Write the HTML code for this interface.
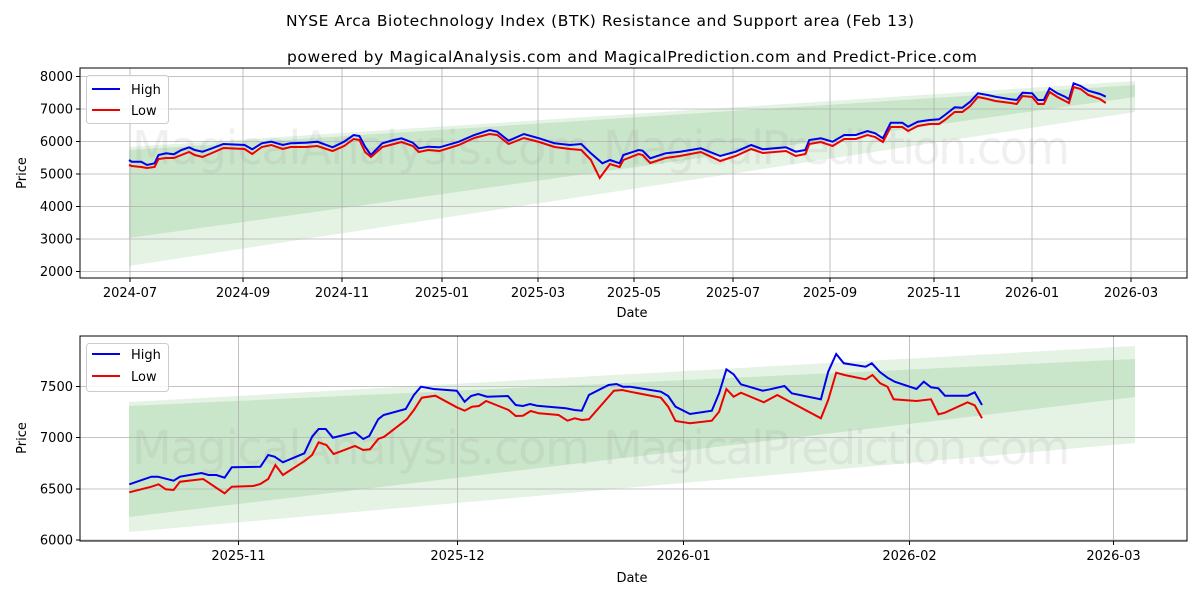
<!DOCTYPE html>
<html><head><meta charset="utf-8"><style>
body{margin:0;background:#fff}
svg{display:block;font-family:"DejaVu Sans","Liberation Sans",sans-serif}
</style></head><body>
<svg width="1200" height="600" viewBox="0 0 1200 600" xmlns="http://www.w3.org/2000/svg">
<rect width="1200" height="600" fill="#fff"/>
<text x="600" y="26" font-size="15.5" text-anchor="middle" textLength="628" fill="#000">NYSE Arca Biotechnology Index (BTK) Resistance and Support area (Feb 13)</text>
<text x="632" y="62" font-size="15.5" text-anchor="middle" textLength="690" fill="#000">powered by MagicalAnalysis.com and MagicalPrediction.com and Predict-Price.com</text>

<!-- TOP CHART -->
<g>
<polygon points="129,147 1135,81 1135,112 129,266" fill="#2ca02c" fill-opacity="0.12"/>
<polygon points="129,150 1135,85 1135,97 129,238" fill="#2ca02c" fill-opacity="0.15"/>
<g stroke="#b0b0b0" stroke-width="0.8">
<line x1="130" y1="68" x2="130" y2="278"/><line x1="243" y1="68" x2="243" y2="278"/><line x1="342" y1="68" x2="342" y2="278"/><line x1="442" y1="68" x2="442" y2="278"/><line x1="538" y1="68" x2="538" y2="278"/><line x1="634" y1="68" x2="634" y2="278"/><line x1="733" y1="68" x2="733" y2="278"/><line x1="830" y1="68" x2="830" y2="278"/><line x1="934" y1="68" x2="934" y2="278"/><line x1="1032" y1="68" x2="1032" y2="278"/><line x1="1131" y1="68" x2="1131" y2="278"/>
<line x1="80" y1="76.5" x2="1187" y2="76.5"/><line x1="80" y1="109" x2="1187" y2="109"/><line x1="80" y1="141.5" x2="1187" y2="141.5"/><line x1="80" y1="174" x2="1187" y2="174"/><line x1="80" y1="206.5" x2="1187" y2="206.5"/><line x1="80" y1="239" x2="1187" y2="239"/><line x1="80" y1="271.5" x2="1187" y2="271.5"/>
</g>
<text x="132" y="164" font-size="46" textLength="458" fill="#808080" fill-opacity="0.12">MagicalAnalysis.com</text>
<text x="603" y="164" font-size="46" textLength="467" fill="#808080" fill-opacity="0.12">MagicalPrediction.com</text>
<polyline fill="none" stroke="#0000ee" stroke-width="2" points="129,160 131.7,161.7 141.2,161.7 147,165 154.6,163.3 158.5,155 166.1,153.3 173.8,154.3 181.4,150 189.1,147.3 194.8,150 202.5,151.7 212,148.3 223.5,144 244.6,145 252.2,149.3 261.8,143.3 271.4,141.7 282.8,145 290.5,143.3 305.8,142.7 317.3,141.7 332.6,147.3 344.1,141.7 353.6,135 359.4,136 365.1,146.7 370.9,155 382.3,143.3 393.8,140 401.5,138.3 412.9,142.7 418.7,148.3 428.3,146.7 439.7,147.3 458.9,141.7 474.2,135 489.5,130 497.2,131.7 508.6,140.7 523.9,134 539.2,138.3 554.6,143.3 569.9,145 581.3,144 590.9,153.3 602.4,163.3 610,160 619.6,163.3 623.4,155 638.7,150 642.6,150.7 650.2,158.3 665.5,153.3 680,151.7 700.8,148.3 720.2,156 735.7,151.7 751.2,145 762.8,149.3 786,147.3 795.7,151.7 805.4,150 809.3,140 820.9,138.3 832.6,141.7 844.2,135 855.8,135 867.4,131 875.2,133.3 882.9,138.3 890.7,122.7 902.3,122.7 908.1,126.7 917.8,121.7 929.5,120 939.1,119.3 944.9,115 954.7,107.3 962.4,107.7 970.2,101.7 977.9,93.3 987.6,95 995.3,96.7 1010.9,99.3 1016.7,100 1022.5,92.7 1032.2,93.3 1038,100 1043.8,100 1049.6,88.3 1057.4,93.3 1065.1,96.7 1069,99.3 1073.6,83.3 1080.6,86 1088.4,90.7 1100,94 1105.8,96.7"/>
<polyline fill="none" stroke="#ee0000" stroke-width="2" points="129,165 131.7,166 141.2,167 147,168 154.6,167 158.5,159 166.1,158 173.8,158 181.4,155 189.1,152 194.8,155 202.5,157 212,153 223.5,148 244.6,149 252.2,154 261.8,147 271.4,145 282.8,149 290.5,147 305.8,147 317.3,146 332.6,151 344.1,146 353.6,139 359.4,140 365.1,152 371,157 382.3,147 393.8,144 401.5,142 412.9,146 418.7,152 428.3,150 439.7,151 458.9,145 474.2,138 489.5,134 497.2,135 508.6,144 523.9,138 539.2,142 554.6,147 569.9,149 581.3,150 590.9,160 599.7,178 610,164 619.6,167 623.4,160 638.7,154 642.6,155 650.2,163 665.5,158 680,156 700.8,152 720.2,161 735.7,156 751.2,149 762.8,153 786,151 795.7,156 805.4,154 809.3,144 820.9,142 832.6,146 844.2,139 855.8,139 867.4,135 875.2,137 882.9,142 890.7,127 902.3,127 908.1,131 917.8,126 929.5,124 939.1,124 944.9,120 954.7,112 962.4,112 970.2,106 977.9,97 987.6,99 995.3,101 1010.9,103 1016.7,104 1022.5,96 1032.2,97 1038,104 1043.8,104 1049.6,92 1057.4,97 1065.1,101 1069,103 1073.6,87 1080.6,89 1088.4,95 1100,99 1105.8,103"/>
<rect x="80" y="68" width="1107" height="210" fill="none" stroke="#000" stroke-width="1"/>
<g stroke="#000" stroke-width="1">
<line x1="130" y1="278" x2="130" y2="282"/><line x1="243" y1="278" x2="243" y2="282"/><line x1="342" y1="278" x2="342" y2="282"/><line x1="442" y1="278" x2="442" y2="282"/><line x1="538" y1="278" x2="538" y2="282"/><line x1="634" y1="278" x2="634" y2="282"/><line x1="733" y1="278" x2="733" y2="282"/><line x1="830" y1="278" x2="830" y2="282"/><line x1="934" y1="278" x2="934" y2="282"/><line x1="1032" y1="278" x2="1032" y2="282"/><line x1="1131" y1="278" x2="1131" y2="282"/>
<line x1="76" y1="76.5" x2="80" y2="76.5"/><line x1="76" y1="109" x2="80" y2="109"/><line x1="76" y1="141.5" x2="80" y2="141.5"/><line x1="76" y1="174" x2="80" y2="174"/><line x1="76" y1="206.5" x2="80" y2="206.5"/><line x1="76" y1="239" x2="80" y2="239"/><line x1="76" y1="271.5" x2="80" y2="271.5"/>
</g>
<g font-size="13" text-anchor="middle">
<text x="130" y="297">2024-07</text><text x="243" y="297">2024-09</text><text x="342" y="297">2024-11</text><text x="442" y="297">2025-01</text><text x="538" y="297">2025-03</text><text x="634" y="297">2025-05</text><text x="733" y="297">2025-07</text><text x="830" y="297">2025-09</text><text x="934" y="297">2025-11</text><text x="1032" y="297">2026-01</text><text x="1131" y="297">2026-03</text>
</g>
<g font-size="13" text-anchor="end">
<text x="73" y="81">8000</text><text x="73" y="113.5">7000</text><text x="73" y="146">6000</text><text x="73" y="178.5">5000</text><text x="73" y="211">4000</text><text x="73" y="243.5">3000</text><text x="73" y="276">2000</text>
</g>
<text x="632" y="317" font-size="13" text-anchor="middle">Date</text>
<text transform="translate(26,173) rotate(-90)" font-size="13" text-anchor="middle">Price</text>
<rect x="86.5" y="75.5" width="82" height="48" rx="3" fill="#fff" fill-opacity="0.85" stroke="#ccc"/>
<line x1="92" y1="89" x2="120" y2="89" stroke="#0000ee" stroke-width="2"/>
<line x1="92" y1="110" x2="120" y2="110" stroke="#ee0000" stroke-width="2"/>
<text x="131" y="94" font-size="13">High</text><text x="131" y="115" font-size="13">Low</text>
</g>

<!-- BOTTOM CHART -->
<g>
<polygon points="129,402 1135,346 1135,443 129,532" fill="#2ca02c" fill-opacity="0.12"/>
<polygon points="129,406 1135,359 1135,397 129,517" fill="#2ca02c" fill-opacity="0.15"/>
<g stroke="#b0b0b0" stroke-width="0.8">
<line x1="238.5" y1="336" x2="238.5" y2="541"/><line x1="457.5" y1="336" x2="457.5" y2="541"/><line x1="683.5" y1="336" x2="683.5" y2="541"/><line x1="909.5" y1="336" x2="909.5" y2="541"/><line x1="1113.5" y1="336" x2="1113.5" y2="541"/>
<line x1="80" y1="386.5" x2="1187" y2="386.5"/><line x1="80" y1="437.5" x2="1187" y2="437.5"/><line x1="80" y1="489" x2="1187" y2="489"/><line x1="80" y1="540" x2="1187" y2="540"/>
</g>
<text x="132" y="464" font-size="46" textLength="458" fill="#808080" fill-opacity="0.12">MagicalAnalysis.com</text>
<text x="603" y="464" font-size="46" textLength="467" fill="#808080" fill-opacity="0.12">MagicalPrediction.com</text>
<polyline fill="none" stroke="#0000ee" stroke-width="2" points="129.3,484.3 151.4,476.7 157.9,476.7 173.6,480.7 180,476.7 201.4,473 208.6,475 216.4,475 224.6,477.7 231.8,467.3 260.4,466.7 268.2,455 274.6,456.7 282.9,462.3 304.3,453.3 312.1,436.7 318.6,429 325.7,429 332.9,437.7 355,432.3 363.2,439 369.3,436 378.2,419.3 383.6,415 405.7,409 413.9,395 421,386.7 433.6,389 456.8,390.7 464.6,401.7 471,396 478.2,394 487.1,396.7 507.9,396 515.7,405 522.9,406 530,404 537.1,405.7 565.7,408.3 574.6,410 581.8,410.7 588.9,395 608.6,385 616.4,384 622.9,386.7 630,386.7 660.9,391.7 668.2,396 675.5,406.7 690,414 711.8,410.7 719.1,393.3 726.4,369.3 733.6,374.3 740.9,384.3 762.7,390.7 770,389.3 784.5,386 791.8,393.3 820.9,399.3 828.2,371.7 836.2,354 843.8,363.3 865.6,366.7 871.8,363.3 880.2,372.3 887.5,377.7 894.7,381.7 916.5,389 923.8,381.7 931,387.3 938.4,388.3 944.9,395.7 967.5,395.7 974.7,392.3 982,405"/>
<polyline fill="none" stroke="#ee0000" stroke-width="2" points="129.3,492.3 151.4,486.7 158.6,484.3 165.7,489.3 173.6,490 180,481.7 203.2,479 224.6,493.3 231.8,486.7 253.2,486 260.4,484 268.2,479 275.4,465 282.9,475 305,460.7 312.1,455 318.6,442.3 326.4,445 333.6,454 355,446 363.2,450 370,449.3 378.2,439 384.3,436.7 406.8,419.3 413.9,410 421.8,397.7 435.4,395.7 456.8,407.3 464.6,410.7 472.1,406.7 478.9,406 486.1,401 508.6,410 515.7,416 522.9,415.7 530.7,411 538.9,413.3 558.6,415 567.5,420.7 574.6,418.3 581.8,420 588.9,419.3 613.9,390.7 622.1,390 630,391.7 660.9,397.7 668.2,406.7 675.5,421 690,423.3 711.8,420.7 719.1,411.7 726.4,389 733.6,396.7 740.9,392.7 763.8,402.3 777.3,395 820.9,418.3 828.2,400 836.2,372.7 844.5,375 865.6,379.3 872.5,375 880.2,383.3 887.5,386.7 893.6,399.3 916.5,401 931,399.3 938.4,414.3 944.9,412.7 967.5,402.3 974.7,405.3 982,418.3"/>
<rect x="80" y="336" width="1107" height="205" fill="none" stroke="#000" stroke-width="1"/>
<g stroke="#000" stroke-width="1">
<line x1="238.5" y1="541" x2="238.5" y2="545"/><line x1="457.5" y1="541" x2="457.5" y2="545"/><line x1="683.5" y1="541" x2="683.5" y2="545"/><line x1="909.5" y1="541" x2="909.5" y2="545"/><line x1="1113.5" y1="541" x2="1113.5" y2="545"/>
<line x1="76" y1="386.5" x2="80" y2="386.5"/><line x1="76" y1="437.5" x2="80" y2="437.5"/><line x1="76" y1="489" x2="80" y2="489"/><line x1="76" y1="540" x2="80" y2="540"/>
</g>
<g font-size="13" text-anchor="middle">
<text x="238.5" y="560">2025-11</text><text x="457.5" y="560">2025-12</text><text x="683.5" y="560">2026-01</text><text x="909.5" y="560">2026-02</text><text x="1113.5" y="560">2026-03</text>
</g>
<g font-size="13" text-anchor="end">
<text x="73" y="391">7500</text><text x="73" y="442">7000</text><text x="73" y="493.5">6500</text><text x="73" y="544.5">6000</text>
</g>
<text x="632" y="582" font-size="13" text-anchor="middle">Date</text>
<text transform="translate(26,438) rotate(-90)" font-size="13" text-anchor="middle">Price</text>
<rect x="86.5" y="343.5" width="82" height="48" rx="3" fill="#fff" fill-opacity="0.85" stroke="#ccc"/>
<line x1="92" y1="354" x2="120" y2="354" stroke="#0000ee" stroke-width="2"/>
<line x1="92" y1="376" x2="120" y2="376" stroke="#ee0000" stroke-width="2"/>
<text x="131" y="359" font-size="13">High</text><text x="131" y="381" font-size="13">Low</text>
</g>
</svg>
</body></html>
